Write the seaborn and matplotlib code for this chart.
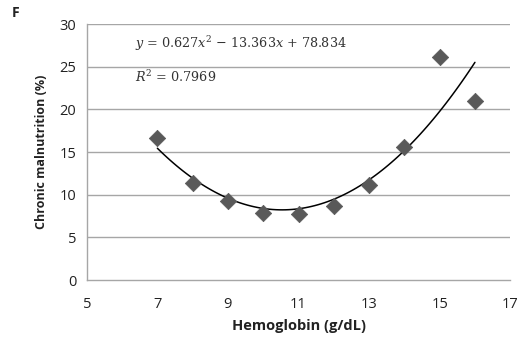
import matplotlib
matplotlib.use('Agg')
import matplotlib.pyplot as plt
import pandas as pd
import seaborn as sns

# Data
hemoglobin = [7, 8, 9, 10, 11, 12, 13, 14, 15, 16]
malnutrition = [16.6, 11.4, 9.3, 7.9, 7.8, 8.7, 11.1, 15.6, 26.1, 21.0]
x_ticks = [5, 7, 9, 11, 13, 15, 17]
y_ticks = [0, 5, 10, 15, 20, 25, 30]

df = pd.DataFrame({'hb': hemoglobin, 'mal': malnutrition})

sns.set_style('white')
plt.rcParams['font.family'] = ['Open Sans', 'DejaVu Sans']
plt.rcParams['mathtext.fontset'] = 'dejavuserif'

fig = plt.figure(figsize=(5.26, 3.4), dpi=100)
ax = fig.add_axes([0.165, 0.176, 0.805, 0.753])

# Gridlines
for t in y_ticks[1:]:
    ax.axhline(t, color='#a6a6a6', lw=1.0, zorder=0)

# Points
sns.scatterplot(data=df, x='hb', y='mal', marker='D', s=70, color='#595959',
                edgecolor='#595959', linewidth=0.5, ax=ax, zorder=3)

# Polynomial trend line (order 2)
sns.regplot(data=df, x='hb', y='mal', order=2, ci=None, scatter=False, truncate=True,
            line_kws=dict(color='black', lw=1.1), ax=ax)

ax.set_xlim(5, 17)
ax.set_ylim(0, 30)
ax.set_xticks(x_ticks)
ax.set_yticks(y_ticks)
ax.tick_params(axis='both', labelsize=10.5, colors='#222222', length=4, width=1,
               color='#a6a6a6', direction='out')
ax.tick_params(axis='x', pad=8)
for s in ['top', 'right']:
    ax.spines[s].set_visible(False)
for s in ['left', 'bottom']:
    ax.spines[s].set_color('#a6a6a6')
    ax.spines[s].set_linewidth(1.0)

ax.set_xlabel('Hemoglobin (g/dL)', fontsize=10.5, fontweight='bold', color='#222222', labelpad=5)
ax.set_ylabel('Chronic malnutrition (%)', fontsize=9, fontweight='bold', color='#222222', labelpad=8)

ax.text(0.113, 0.925, r'$y$ = 0.627$x^2$ − 13.363$x$ + 78.834', transform=ax.transAxes,
        fontsize=9.2, family='DejaVu Serif', color='#333333', va='center')
ax.text(0.113, 0.795, r'$R^2$ = 0.7969', transform=ax.transAxes,
        fontsize=9.2, family='DejaVu Serif', color='#333333', va='center')

fig.text(0.022, 0.95, 'F', fontsize=10, fontweight='bold', color='#222222')

fig.savefig('out.png', dpi=100)
